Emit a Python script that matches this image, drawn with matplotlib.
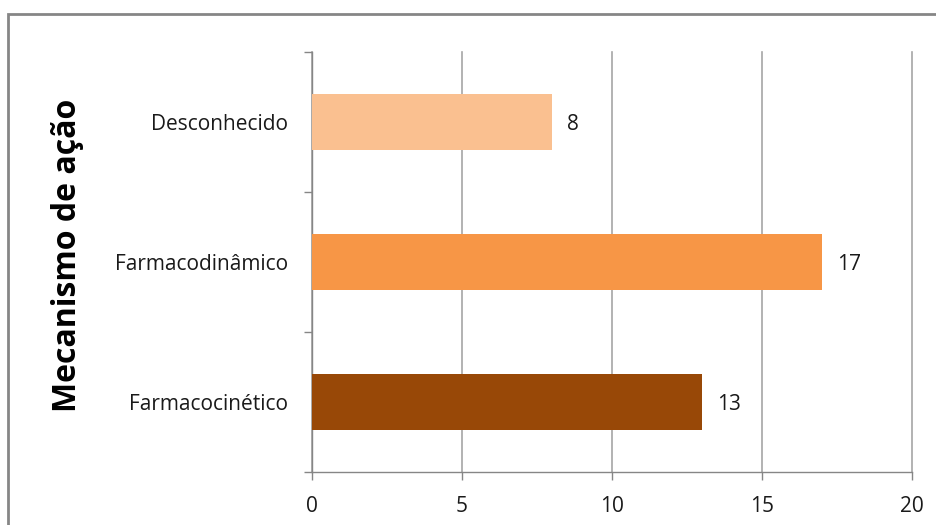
import numpy as np
import matplotlib
matplotlib.use("Agg")
import matplotlib.pyplot as plt
from matplotlib.patches import Rectangle

categories = ["Farmacocinético", "Farmacodinâmico", "Desconhecido"]
values     = [13, 17, 8]
colors     = ["#984807", "#F79646", "#FAC090"]
xticks     = [0, 5, 10, 15, 20]

plt.rcParams["font.family"] = ["Open Sans", "DejaVu Sans"]

fig = plt.figure(figsize=(9.36, 5.25), dpi=100)
ax  = fig.add_axes([312/936, 53/525, 600/936, 420/525])

ypos = np.arange(len(categories))
ax.barh(ypos, values, height=0.4, color=colors, zorder=3)
for y, v in zip(ypos, values):
    ax.text(v + 0.5, y - 0.02, str(v), va="center", ha="left", fontsize=15, color="#1a1a1a")

ax.set_xlim(0, 20)
ax.set_ylim(-0.5, 2.5)
ax.set_xticks(xticks)
ax.set_xticklabels([str(t) for t in xticks], fontsize=15, color="#1a1a1a")
ax.set_yticks(ypos)
ax.set_yticklabels(categories, fontsize=15, color="#1a1a1a")
ax.set_yticks([-0.5, 0.5, 1.5, 2.5], minor=True)
ax.tick_params(axis="y", which="major", length=0, pad=17)
ax.tick_params(axis="y", which="minor", length=6, color="#868686", width=1)
ax.tick_params(axis="x", length=6, color="#868686", width=1, pad=11)
ax.grid(axis="x", color="#A6A6A6", linewidth=1.2, zorder=0)
for gl in ax.get_xgridlines():
    gl.set_clip_on(False)

for s in ["top", "right"]:
    ax.spines[s].set_visible(False)
for s in ["left", "bottom"]:
    ax.spines[s].set_color("#868686")
    ax.spines[s].set_linewidth(1)

ax.set_ylabel("Mecanismo de ação", fontsize=23, fontweight="bold")
ax.yaxis.set_label_coords(-0.38, 0.515, transform=ax.transAxes)

# chart border
fig.patches.append(Rectangle((8/936, -0.1), 1.1, (525-14)/525 + 0.1, transform=fig.transFigure,
                             fill=False, edgecolor="#868686", linewidth=2))

fig.savefig("out.png", dpi=100)
